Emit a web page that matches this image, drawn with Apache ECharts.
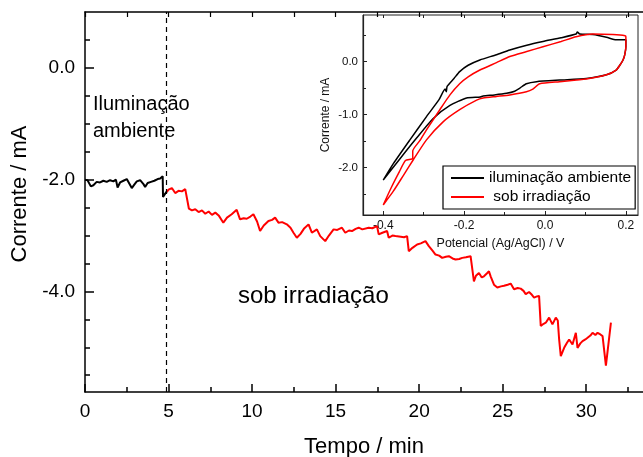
<!DOCTYPE html>
<html>
<head>
<meta charset="utf-8">
<script src="https://cdn.jsdelivr.net/npm/echarts@6/dist/echarts.min.js"></script>
<style>
  html, body { margin: 0; padding: 0; background: #fff; }
  #chart { width: 643px; height: 457px; }
</style>
</head>
<body>
<div id="chart"></div>
<script>
// dados do gráfico principal (corrente x tempo)
var tempoAmb = [0, 0.15, 0.35, 0.5, 0.7, 0.9, 1.1, 1.3, 1.5, 1.7, 1.85, 1.95, 2.1, 2.3, 2.5, 2.65, 2.8, 2.95, 3.1, 3.3, 3.5, 3.6, 3.75, 3.95, 4.15, 4.35, 4.5, 4.65, 4.67, 4.8, 4.9];
var correnteAmb = [-2.00, -2.01, -2.12, -2.10, -2.04, -2.05, -2.02, -2.04, -2.01, -2.03, -2.00, -2.14, -2.05, -2.02, -1.99, -2.07, -2.15, -2.09, -2.03, -2.01, -2.08, -2.13, -2.06, -2.04, -2.02, -1.99, -1.98, -1.94, -2.31, -2.25, -2.21];
var tempoIrr = [4.9, 5.0, 5.2, 5.4, 5.6, 5.8, 6.0, 6.1, 6.22, 6.4, 6.6, 6.8, 7.0, 7.2, 7.4, 7.6, 7.8, 8.0, 8.1, 8.28, 8.5, 8.78, 9.08, 9.28, 9.5, 9.68, 9.9, 10.08, 10.3, 10.48, 10.7, 10.98, 11.2, 11.38, 11.58, 11.8, 12.08, 12.3, 12.48, 12.68, 12.9, 13.1, 13.38, 13.58, 13.88, 14.08, 14.38, 14.6, 14.88, 15.1, 15.38, 15.58, 15.8, 15.98, 16.2, 16.38, 16.6, 16.98, 17.2, 17.48, 17.58, 17.8, 18.08, 18.18, 18.4, 18.58, 18.9, 19.1, 19.28, 19.38, 19.6, 19.88, 20.1, 20.38, 20.58, 20.8, 20.98, 21.2, 21.38, 21.6, 21.78, 22.0, 22.18, 22.4, 22.58, 22.8, 23.08, 23.28, 23.4, 23.58, 23.75, 23.88, 24.05, 24.18, 24.28, 24.48, 24.68, 24.9, 25.08, 25.3, 25.48, 25.68, 25.9, 26.08, 26.25, 26.38, 26.58, 26.75, 26.88, 27.05, 27.18, 27.28, 27.45, 27.58, 27.78, 27.98, 28.18, 28.3, 28.38, 28.48, 28.68, 28.85, 28.98, 29.18, 29.38, 29.48, 29.65, 29.78, 29.95, 30.08, 30.25, 30.38, 30.55, 30.68, 30.85, 30.98, 31.18, 31.48];
var correnteIrr = [-2.22, -2.18, -2.15, -2.24, -2.20, -2.21, -2.17, -2.16, -2.52, -2.55, -2.53, -2.58, -2.55, -2.61, -2.57, -2.63, -2.59, -2.64, -2.62, -2.77, -2.68, -2.62, -2.54, -2.71, -2.69, -2.70, -2.66, -2.62, -2.75, -2.92, -2.82, -2.74, -2.72, -2.68, -2.77, -2.76, -2.80, -2.86, -2.95, -3.04, -2.97, -2.88, -2.80, -2.95, -2.89, -3.01, -3.10, -3.00, -2.89, -2.90, -2.86, -2.95, -2.91, -2.92, -2.88, -2.86, -2.89, -2.86, -2.87, -2.83, -2.98, -2.95, -2.92, -3.04, -3.00, -3.01, -3.02, -3.03, -3.01, -3.28, -3.22, -3.16, -3.14, -3.10, -3.19, -3.27, -3.34, -3.36, -3.40, -3.38, -3.37, -3.41, -3.43, -3.42, -3.40, -3.39, -3.37, -3.82, -3.72, -3.67, -3.75, -3.73, -3.68, -3.64, -3.73, -3.88, -3.93, -3.91, -3.90, -3.88, -3.86, -3.96, -3.94, -3.95, -3.99, -4.05, -4.01, -4.06, -4.11, -4.09, -4.08, -4.62, -4.58, -4.56, -4.47, -4.59, -4.47, -4.52, -4.86, -5.16, -5.01, -4.92, -4.86, -4.95, -4.74, -5.01, -4.93, -4.89, -4.86, -4.83, -4.79, -4.74, -4.78, -4.74, -4.77, -4.80, -5.33, -4.56];
var tempoLuz = 4.88; // linha tracejada
var ticksTempo = [0, 5, 10, 15, 20, 25, 30];
var ticksTempoMenor = [2.5, 7.5, 12.5, 17.5, 22.5, 27.5, 32.5];
var ticksCorrente = [-4, -2, 0];
var ticksCorrenteMenor = [-5.5, -5, -4.5, -3.5, -3, -2.5, -1.5, -1, -0.5, 0.5];

// dados do inset (voltametria)
var potAmb = [-0.4, -0.375, -0.334, -0.293, -0.262, -0.247, -0.244, -0.242, -0.225, -0.211, -0.19, -0.161, -0.12, -0.087, -0.045, -0.005, 0.04, 0.077, 0.08, 0.086, 0.118, 0.152, 0.176, 0.2, 0.2, 0.197, 0.193, 0.185, 0.176, 0.152, 0.102, 0.036, -0.021, -0.046, -0.062, -0.075, -0.095, -0.125, -0.153, -0.16, -0.194, -0.235, -0.277, -0.318, -0.359, -0.4];
var cvAmb = [-2.24, -1.93, -1.48, -1.04, -0.72, -0.52, -0.57, -0.47, -0.32, -0.19, -0.07, 0.03, 0.13, 0.22, 0.31, 0.38, 0.45, 0.52, 0.56, 0.52, 0.51, 0.46, 0.41, 0.41, 0.28, 0.12, 0.03, -0.07, -0.16, -0.25, -0.32, -0.35, -0.38, -0.42, -0.50, -0.56, -0.60, -0.63, -0.65, -0.67, -0.69, -0.83, -1.08, -1.45, -1.84, -2.24];
var potIrr = [-0.4, -0.38, -0.36, -0.345, -0.327, -0.327, -0.31, -0.293, -0.26, -0.235, -0.211, -0.19, -0.161, -0.12, -0.087, -0.045, -0.005, 0.04, 0.077, 0.118, 0.168, 0.198, 0.2, 0.2, 0.197, 0.193, 0.185, 0.176, 0.152, 0.102, 0.036, -0.013, -0.03, -0.046, -0.087, -0.12, -0.153, -0.169, -0.211, -0.252, -0.293, -0.326, -0.35, -0.375, -0.4];
var cvIrr = [-2.71, -2.38, -2.08, -1.87, -1.83, -1.69, -1.50, -1.29, -0.91, -0.63, -0.42, -0.29, -0.16, -0.02, 0.095, 0.19, 0.28, 0.38, 0.47, 0.52, 0.51, 0.49, 0.47, 0.28, 0.12, 0.03, -0.07, -0.16, -0.25, -0.33, -0.38, -0.42, -0.52, -0.57, -0.63, -0.66, -0.69, -0.73, -0.91, -1.14, -1.48, -1.86, -2.15, -2.45, -2.71];
var ticksPot = [-0.4, -0.2, 0, 0.2];
var ticksPotMenor = [-0.3, -0.1, 0.1];
var ticksCv = [-2, -1, 0];
var ticksCvMenor = [-2.5, -1.5, -0.5, 0.5];

var fonte = 'Liberation Sans, Arial, sans-serif';

function zip(a, b) {
  var out = [];
  for (var i = 0; i < a.length; i++) out.push([a[i], b[i]]);
  return out;
}

// eixo sem nada, só o que vier em extra
function eixo(extra) {
  var base = {
    type: 'value',
    splitLine: { show: false },
    axisLine: { show: false, onZero: false },
    axisTick: { show: false },
    axisLabel: { show: false }
  };
  for (var k in extra) base[k] = extra[k];
  return base;
}

var myChart = echarts.init(document.getElementById('chart'));

var option = {
  animation: false,
  textStyle: { fontFamily: fonte, color: '#000' },
  grid: [
    { left: 85, top: 12, right: 0, bottom: 65, outerBoundsMode: 'none', containLabel: false },
    { left: 363, top: 15, right: 5, bottom: 242, outerBoundsMode: 'none', containLabel: false,
      show: true, backgroundColor: '#fff', borderColor: '#222', borderWidth: 1 }
  ],
  legend: {
    left: 443, top: 166,
    orient: 'vertical',
    data: ['iluminação ambiente', ' sob irradiação'],
    icon: 'rect',
    borderColor: '#000', borderWidth: 1.2,
    padding: [4, 4, 4, 8],
    itemWidth: 33, itemHeight: 2, itemGap: 3,
    textStyle: { fontSize: 15.5, color: '#000', fontFamily: fonte },
    backgroundColor: '#fff'
  },
  xAxis: [
    eixo({
      gridIndex: 0, min: 0, max: 33.4, position: 'bottom',
      axisLine: { show: true, onZero: false, lineStyle: { color: '#000', width: 1.5 } },
      axisTick: { show: true, inside: true, length: 8, customValues: ticksTempo, lineStyle: { color: '#000', width: 1.5 } },
      axisLabel: { show: true, customValues: ticksTempo, fontSize: 19, color: '#000', margin: 10, fontFamily: fonte },
      name: 'Tempo / min', nameLocation: 'middle', nameGap: 44,
      nameTextStyle: { fontSize: 22, color: '#000', fontFamily: fonte }
    }),
    eixo({
      gridIndex: 0, min: 0, max: 33.4, position: 'bottom',
      axisTick: { show: true, inside: true, length: 5, customValues: ticksTempoMenor, lineStyle: { color: '#000', width: 1.5 } }
    }),
    eixo({
      gridIndex: 0, min: 0, max: 33.4, position: 'top',
      axisLine: { show: true, onZero: false, lineStyle: { color: '#000', width: 1.5 } },
      axisTick: { show: true, inside: true, length: 5, customValues: ticksTempo.concat(ticksTempoMenor), lineStyle: { color: '#000', width: 1.2 } }
    }),
    eixo({
      gridIndex: 1, min: -0.45, max: 0.23, position: 'bottom',
      axisLine: { show: true, onZero: false, lineStyle: { color: '#222', width: 1.2 } },
      axisTick: { show: true, inside: true, length: 4, customValues: ticksPot, lineStyle: { color: '#222' } },
      axisLabel: { show: true, customValues: ticksPot, fontSize: 12, color: '#111', margin: 5, fontFamily: fonte,
        formatter: function (v) { return v.toFixed(1); } },
      name: 'Potencial (Ag/AgCl) / V', nameLocation: 'middle', nameGap: 22,
      nameTextStyle: { fontSize: 12.5, color: '#111', fontFamily: fonte }
    }),
    eixo({
      gridIndex: 1, min: -0.45, max: 0.23, position: 'bottom',
      axisTick: { show: true, inside: true, length: 3, customValues: ticksPotMenor, lineStyle: { color: '#222' } }
    }),
    eixo({
      gridIndex: 1, min: -0.45, max: 0.23, position: 'top',
      axisTick: { show: true, inside: true, length: 3, customValues: ticksPot.concat(ticksPotMenor), lineStyle: { color: '#222' } }
    })
  ],
  yAxis: [
    eixo({
      gridIndex: 0, min: -5.8, max: 1, position: 'left',
      axisLine: { show: true, onZero: false, lineStyle: { color: '#000', width: 1.5 } },
      axisTick: { show: true, inside: true, length: 9, customValues: ticksCorrente, lineStyle: { color: '#000', width: 1.5 } },
      axisLabel: { show: true, customValues: ticksCorrente, fontSize: 19, color: '#000', margin: 10, fontFamily: fonte,
        formatter: function (v) { return v.toFixed(1); } },
      name: 'Corrente / mA', nameLocation: 'middle', nameGap: 47,
      nameTextStyle: { fontSize: 22, color: '#000', fontFamily: fonte, padding: [0, 0, 0, 16] }
    }),
    eixo({
      gridIndex: 0, min: -5.8, max: 1, position: 'left',
      axisTick: { show: true, inside: true, length: 5, customValues: ticksCorrenteMenor, lineStyle: { color: '#000', width: 1.5 } }
    }),
    eixo({
      gridIndex: 1, min: -2.9, max: 0.88, position: 'left',
      axisLine: { show: true, onZero: false, lineStyle: { color: '#222', width: 1.2 } },
      axisTick: { show: true, inside: true, length: 4, customValues: ticksCv, lineStyle: { color: '#222' } },
      axisLabel: { show: true, customValues: ticksCv, fontSize: 11.5, color: '#111', margin: 5, fontFamily: fonte,
        formatter: function (v) { return v.toFixed(1); } },
      name: 'Corrente / mA', nameLocation: 'middle', nameGap: 31,
      nameTextStyle: { fontSize: 12, color: '#111', fontFamily: fonte }
    }),
    eixo({
      gridIndex: 1, min: -2.9, max: 0.88, position: 'left',
      axisTick: { show: true, inside: true, length: 3, customValues: ticksCvMenor, lineStyle: { color: '#222' } }
    })
  ],
  graphic: [
    { type: 'text', left: 93, top: 91, style: { text: 'Iluminação\nambiente', fontSize: 20, lineHeight: 27, fill: '#000', fontFamily: fonte } },
    { type: 'text', left: 238, top: 284, style: { text: 'sob irradiação', fontSize: 24, fill: '#000', fontFamily: fonte } }
  ],
  series: [
    {
      name: 'ambiente', type: 'line', xAxisIndex: 0, yAxisIndex: 0,
      data: zip(tempoAmb, correnteAmb), showSymbol: false, symbol: 'none',
      lineStyle: { color: '#000', width: 2 }, itemStyle: { color: '#000' },
      markLine: {
        silent: true, symbol: ['none', 'none'], label: { show: false },
        lineStyle: { color: '#000', width: 1.2, type: [5, 4] },
        data: [{ xAxis: tempoLuz }]
      }
    },
    {
      name: 'irradiação', type: 'line', xAxisIndex: 0, yAxisIndex: 0,
      data: zip(tempoIrr, correnteIrr), showSymbol: false, symbol: 'none',
      lineStyle: { color: '#ff0000', width: 2 }, itemStyle: { color: '#ff0000' }
    },
    {
      name: 'iluminação ambiente', type: 'line', xAxisIndex: 3, yAxisIndex: 2,
      data: zip(potAmb, cvAmb), showSymbol: false, symbol: 'none', smooth: 0.2,
      lineStyle: { color: '#000', width: 1.5 }, itemStyle: { color: '#000' }
    },
    {
      name: ' sob irradiação', type: 'line', xAxisIndex: 3, yAxisIndex: 2,
      data: zip(potIrr, cvIrr), showSymbol: false, symbol: 'none', smooth: 0.2,
      lineStyle: { color: '#ff0000', width: 1.5 }, itemStyle: { color: '#ff0000' }
    }
  ]
};
myChart.setOption(option);
</script>
</body>
</html>
